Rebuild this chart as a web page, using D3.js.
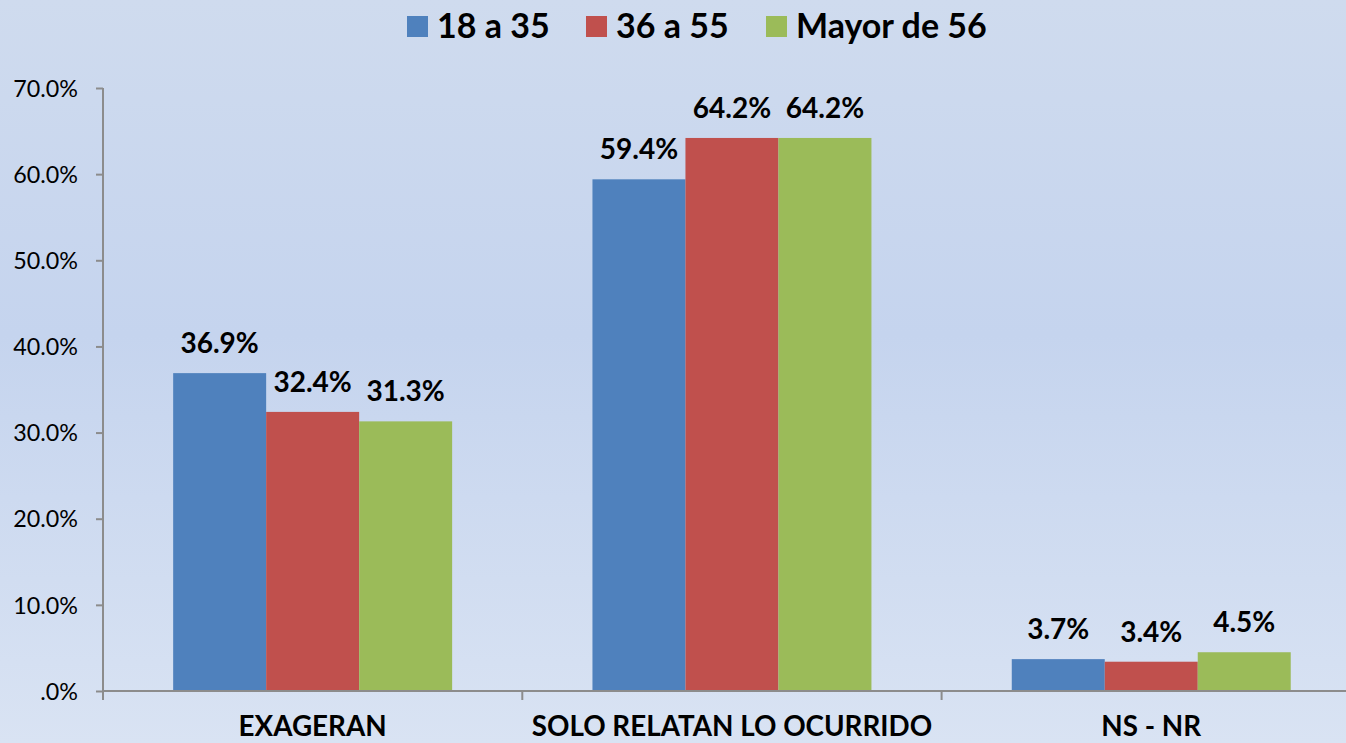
<!DOCTYPE html>
<html><head><meta charset="utf-8">
<script src="https://cdn.jsdelivr.net/npm/d3@7"></script>
<style>html,body{margin:0;padding:0;overflow:hidden;}svg{display:block;}</style>
</head><body>
<script>
const categories = ["EXAGERAN", "SOLO RELATAN LO OCURRIDO", "NS - NR"];
const seriesNames = ["18 a 35", "36 a 55", "Mayor de 56"];
const s18a35 = [36.9, 59.4, 3.7];
const s36a55 = [32.4, 64.2, 3.4];
const sMayor56 = [31.3, 64.2, 4.5];
const yTicks = [0, 10, 20, 30, 40, 50, 60, 70];
const colors = ["#4f81bd", "#c0504d", "#9bbb59"];

const W = 1346, H = 743;
const FONT = "Lato, 'Open Sans', sans-serif";
const svg = d3.select("body").append("svg").attr("width", W).attr("height", H);
const defs = svg.append("defs");
const grad = defs.append("linearGradient").attr("id", "bg").attr("x1", 0).attr("y1", 0).attr("x2", 0).attr("y2", 1);
[["0%", "#cfdbee"], ["45%", "#c5d4ee"], ["100%", "#d9e3f3"]].forEach(([o, c]) => grad.append("stop").attr("offset", o).attr("stop-color", c));
svg.append("rect").attr("width", W).attr("height", H).attr("fill", "url(#bg)");

const plotLeft = 103, bandStep = 419.3, plotTop = 88, plotBottom = 691;
const x0 = d3.scaleBand().domain(categories).range([plotLeft, plotLeft + bandStep * categories.length]).padding(0);
const x1 = d3.scaleBand().domain(seriesNames).range([0, x0.bandwidth()]).paddingInner(0).paddingOuter(0.7545);
const y = d3.scaleLinear().domain([0, 70]).range([plotBottom, plotTop]);

const data = categories.map((c, i) => ({cat: c, vals: [s18a35[i], s36a55[i], sMayor56[i]]}));

const g = svg.append("g");
const groups = g.selectAll(".grp").data(data).join("g").attr("transform", d => `translate(${x0(d.cat)},0)`);
groups.selectAll("rect").data(d => d.vals.map((v, k) => ({v, k}))).join("rect")
  .attr("x", d => x1(seriesNames[d.k]))
  .attr("width", x1.bandwidth())
  .attr("y", d => y(d.v))
  .attr("height", d => y(0) - y(d.v))
  .attr("fill", d => colors[d.k]);
groups.selectAll("text").data(d => d.vals.map((v, k) => ({v, k}))).join("text")
  .attr("x", d => x1(seriesNames[d.k]) + x1.bandwidth() / 2)
  .attr("y", d => y(d.v) - 20)
  .attr("text-anchor", "middle")
  .attr("font-family", FONT).attr("font-weight", "bold").attr("font-size", 28)
  .attr("fill", "#000")
  .text(d => d.v.toFixed(1) + "%");

// Y axis
const yAxis = d3.axisLeft(y).tickValues(yTicks).tickSize(7).tickPadding(18)
  .tickFormat(d => d === 0 ? ".0%" : d.toFixed(1) + "%");
const ya = svg.append("g").attr("transform", `translate(${plotLeft},0)`).call(yAxis);
ya.select(".domain").attr("stroke", "#8c8c8c").attr("stroke-width", 2).attr("d", `M0,${plotTop}V${plotBottom + 9}`);
ya.selectAll(".tick line").attr("stroke", "#8c8c8c").attr("stroke-width", 2);
ya.selectAll(".tick text").attr("font-family", FONT).attr("font-size", 23.3).attr("fill", "#000").attr("dy", "0.35em");

// X axis
const xAxis = d3.axisBottom(x0).tickSize(0).tickPadding(45);
const xa = svg.append("g").attr("transform", `translate(0,${plotBottom})`).call(xAxis);
xa.select(".domain").attr("stroke", "#8c8c8c").attr("stroke-width", 2).attr("d", `M${plotLeft},0H${W}`);
xa.selectAll(".tick text").attr("font-family", FONT).attr("font-weight", "bold").attr("font-size", 27.8).attr("fill", "#000").attr("dy", "0");
const bounds = d3.range(categories.length + 1).map(i => plotLeft + i * bandStep);
xa.selectAll(".sep").data(bounds).join("line").attr("class", "sep")
  .attr("x1", d => d).attr("x2", d => d).attr("y1", 0).attr("y2", 9)
  .attr("stroke", "#8c8c8c").attr("stroke-width", 2);

// Legend
const legX = [407, 586, 766];
const leg = svg.append("g");
seriesNames.forEach((n, i) => {
  leg.append("rect").attr("x", legX[i]).attr("y", 16).attr("width", 21).attr("height", 21).attr("fill", colors[i]);
  leg.append("text").attr("x", legX[i] + 30).attr("y", 38).attr("font-family", FONT).attr("font-weight", "bold")
    .attr("font-size", 34).attr("fill", "#000").text(n);
});
</script>
</body></html>
